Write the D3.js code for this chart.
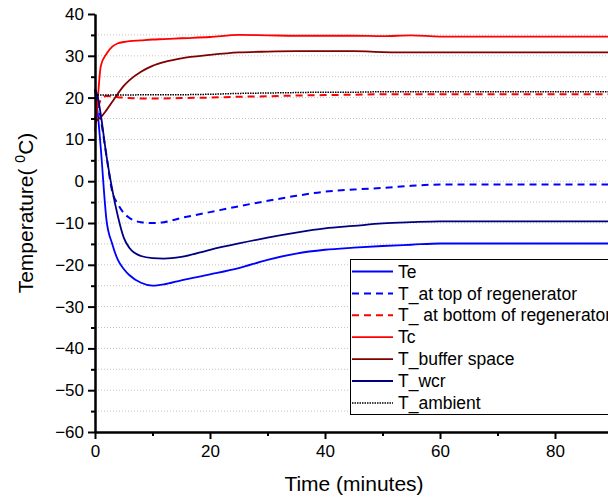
<!DOCTYPE html>
<html>
<head>
<meta charset="utf-8">
<script src="https://cdn.jsdelivr.net/npm/d3@7"></script>
<style>
  body { margin: 0; background: #fff; }
  svg { display: block; font-family: "Liberation Sans", Arial, sans-serif; }
</style>
</head>
<body>
<div id="chart"></div>
<script>
// time in minutes, shared by every series
const time = [0, 0.5, 1, 2, 3, 4, 5, 6, 8, 10, 12, 15, 20, 25, 30, 35, 40, 45, 50, 55, 60, 70, 80, 90];

const te = [22, 16, 8, -9.3, -15, -18.9, -21, -22.5, -24.3, -25, -24.7, -23.7, -22.3, -20.8, -18.8, -17.3, -16.4, -15.9, -15.5, -15.2, -14.9, -14.9, -14.9, -14.9];
const tTopRegen = [22, 19, 15, 6, -2.5, -5.5, -7.6, -8.8, -9.8, -10, -9.8, -8.8, -7.4, -6, -4.7, -3.5, -2.5, -2, -1.6, -1.1, -0.8, -0.8, -0.8, -0.8];
const tBottomRegen = [15, 17.5, 19.5, 20.4, 20.3, 20.1, 20, 19.9, 19.8, 19.8, 19.8, 19.9, 20, 20.2, 20.3, 20.5, 20.6, 20.7, 20.8, 20.8, 20.8, 20.8, 20.8, 20.8];
const tc = [12, 20, 27.5, 30.5, 32.2, 33, 33.3, 33.5, 33.7, 33.9, 34, 34.2, 34.5, 35, 34.9, 34.8, 34.8, 34.8, 34.7, 34.9, 34.6, 34.6, 34.6, 34.6];
const tBuffer = [14, 14.8, 15.3, 17, 19, 21, 22.8, 24.2, 26.2, 27.6, 28.5, 29.4, 30.2, 30.8, 31, 31.1, 31.1, 31.1, 30.9, 30.8, 30.8, 30.8, 30.8, 30.8];
const tWcr = [22, 20, 16, 6, -2, -8.5, -13.5, -16, -17.9, -18.4, -18.5, -18.1, -16.4, -14.9, -13.5, -12.3, -11.3, -10.7, -10.1, -9.8, -9.6, -9.6, -9.6, -9.6];
const tAmbient = [20.6, 20.6, 20.6, 20.6, 20.6, 20.6, 20.6, 20.6, 20.7, 20.7, 20.7, 20.7, 20.8, 21, 21.1, 21.2, 21.3, 21.3, 21.4, 21.4, 21.4, 21.4, 21.4, 21.4];

const seriesNames = ["Te", "T_at top of regenerator", "T_ at bottom of regenerator", "Tc", "T_buffer space", "T_wcr", "T_ambient"];
const seriesValues = [te, tTopRegen, tBottomRegen, tc, tBuffer, tWcr, tAmbient];

const xTicks = [0, 20, 40, 60, 80];
const xMinorTicks = [10, 30, 50, 70];
const yTicks = [-60, -50, -40, -30, -20, -10, 0, 10, 20, 30, 40];
const yMinorTicks = [-55, -45, -35, -25, -15, -5, 5, 15, 25, 35];

// line looks per series
const styles = [
  { color: "#0000ff", dash: null, width: 1.8 },
  { color: "#0000ff", dash: "7,5", width: 2 },
  { color: "#ff0000", dash: "7,5", width: 2 },
  { color: "#ff0000", dash: null, width: 1.8 },
  { color: "#800000", dash: null, width: 1.8 },
  { color: "#000080", dash: null, width: 1.8 },
  { color: "#000000", dash: "1.5,1", width: 1.5 },
];

const width = 608, height = 501;
const svg = d3.select("#chart").append("svg")
  .attr("width", width)
  .attr("height", height);

const x = d3.scaleLinear().domain([0, 90]).range([95, 612.5]);
const y = d3.scaleLinear().domain([-60, 40]).range([432, 14]);

// dotted grid lines
svg.append("g")
  .selectAll("line")
  .data(yMinorTicks.concat(yTicks.filter((v) => v > -60 && v < 40)))
  .enter()
  .append("line")
  .attr("x1", 98)
  .attr("x2", width)
  .attr("y1", (d) => y(d))
  .attr("y2", (d) => y(d))
  .attr("stroke", "#c4c4c4")
  .attr("stroke-width", 1)
  .attr("stroke-dasharray", "1,2");

// series
const line = d3.line()
  .x((d) => x(d[0]))
  .y((d) => y(d[1]))
  .curve(d3.curveMonotoneX);

seriesValues.forEach(function (vals, i) {
  const pts = time.map((t, j) => [t, vals[j]]);
  svg.append("path")
    .datum(pts)
    .attr("fill", "none")
    .attr("stroke", styles[i].color)
    .attr("stroke-width", styles[i].width)
    .attr("stroke-dasharray", styles[i].dash)
    .attr("d", line);
});

// axes
svg.append("g")
  .attr("transform", "translate(0," + y(-60) + ")")
  .call(d3.axisBottom(x).tickValues(xTicks).tickSize(7).tickSizeOuter(0).tickPadding(6));
svg.append("g")
  .attr("transform", "translate(0," + y(-60) + ")")
  .call(d3.axisBottom(x).tickValues(xMinorTicks).tickSize(4).tickFormat("").tickSizeOuter(0));

svg.append("g")
  .attr("transform", "translate(" + x(0) + ",0)")
  .call(d3.axisLeft(y).tickValues(yTicks).tickSize(7).tickSizeOuter(0).tickPadding(4));
svg.append("g")
  .attr("transform", "translate(" + x(0) + ",0)")
  .call(d3.axisLeft(y).tickValues(yMinorTicks).tickSize(4).tickFormat("").tickSizeOuter(0));

svg.selectAll(".domain").attr("stroke", "#000").attr("stroke-width", 2);
svg.selectAll(".tick line").attr("stroke", "#000").attr("stroke-width", 2);
svg.selectAll(".tick text")
  .attr("fill", "#000")
  .style("font-size", "17px")
  .style("font-family", "'Liberation Sans', Arial, sans-serif");

// axis titles
svg.append("text")
  .attr("x", 354)
  .attr("y", 491)
  .attr("text-anchor", "middle")
  .style("font-size", "21px")
  .text("Time (minutes)");

const yTitle = svg.append("text")
  .attr("transform", "translate(33,213) rotate(-90)")
  .attr("text-anchor", "middle")
  .style("font-size", "21px");
yTitle.append("tspan").text("Temperature( ");
yTitle.append("tspan").attr("dy", -8).style("font-size", "14px").text("0");
yTitle.append("tspan").attr("dy", 8).text("C)");

// legend
const legend = svg.append("g");
legend.append("rect")
  .attr("x", 350.5)
  .attr("y", 259.5)
  .attr("width", 300)
  .attr("height", 155)
  .attr("fill", "#fff")
  .attr("stroke", "#000")
  .attr("stroke-width", 1);

const rowY = (i) => 271.5 + i * 21.9;
seriesNames.forEach(function (name, i) {
  legend.append("line")
    .attr("x1", 352)
    .attr("x2", 393)
    .attr("y1", rowY(i))
    .attr("y2", rowY(i))
    .attr("stroke", styles[i].color)
    .attr("stroke-width", styles[i].width)
    .attr("stroke-dasharray", styles[i].dash);
  legend.append("text")
    .attr("x", 398)
    .attr("y", rowY(i))
    .attr("dy", "0.35em")
    .style("font-size", "17.5px")
    .text(name);
});
</script>
</body>
</html>
